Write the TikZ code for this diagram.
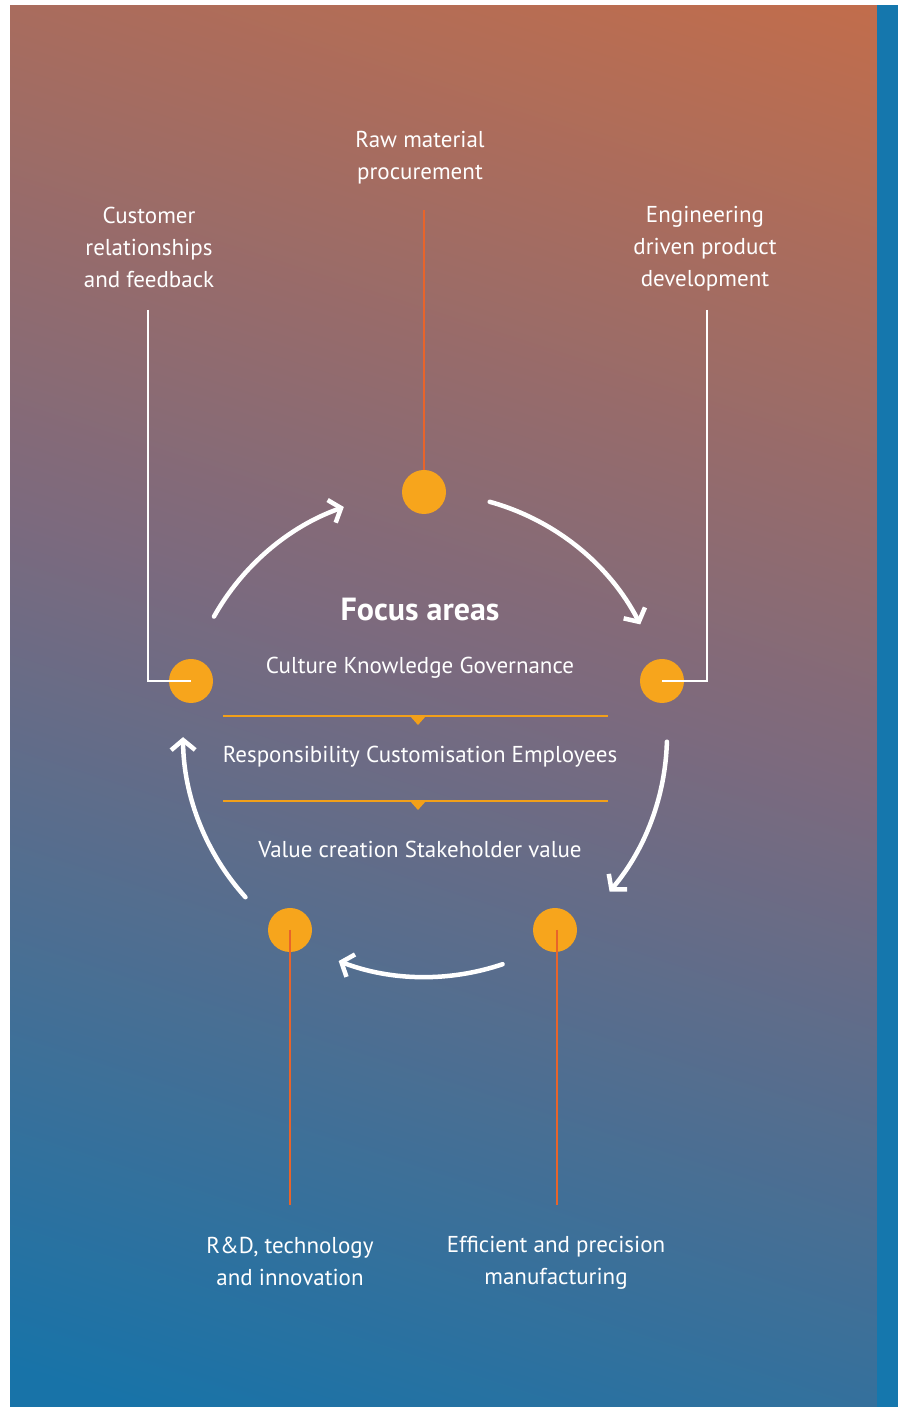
\documentclass[tikz,border=0pt]{standalone}
\usepackage{fontspec}
\setmainfont{PT Sans}
\usetikzlibrary{arrows.meta}
\definecolor{dotorange}{HTML}{F7A51C}
\definecolor{lineorange}{HTML}{E8642A}
\definecolor{sepline}{HTML}{F2A019}
\definecolor{backtop}{HTML}{CC6E44}
\definecolor{backmid}{HTML}{7C6A7E}
\definecolor{backbot}{HTML}{1873A8}
\definecolor{edgeblue}{HTML}{1577AD}
\pgfdeclareverticalshading{backdrop}{100bp}{color(0bp)=(backbot); color(20bp)=(backbot); color(52bp)=(backmid); color(86bp)=(backtop); color(100bp)=(backtop)}
\tikzset{
  stagedot/.style={circle,fill=dotorange,minimum size=44pt,inner sep=0pt},
  stagetext/.style={text=white,align=center,inner sep=2pt,font=\fontsize{23}{32}\selectfont},
  focustext/.style={text=white,font=\fontsize{23}{26}\selectfont},
  feedline/.style={white,line width=2.2pt},
  supplyline/.style={lineorange,line width=2pt},
  cyclearrow/.style={white,line width=4.5pt,line cap=round,-{Straight Barb[length=10pt,width=24pt]}},
}
\begin{document}
\begin{tikzpicture}[x=1pt,y=1pt]
  \useasboundingbox (0,0) rectangle (901,1407);
  \fill[white] (0,0) rectangle (901,1407);
  % Backdrop and the blue edge strip.
  \shade[shading=backdrop,shading angle=-18] (10,0) rectangle (877,1401);
  \fill[edgeblue] (877,0) rectangle (898,1402);

  % The five stages.
  \coordinate (hub) at (425,672);
  \node[stagetext] (raw)  at (420,1249) {Raw material\\procurement};
  \node[stagetext] (cust) at (149,1160) {Customer\\relationships\\and feedback};
  \node[stagetext] (eng)  at (705,1158) {Engineering\\driven product\\development};
  \node[stagetext] (rnd)  at (290,146)  {R\&D, technology\\and innovation};
  \node[stagetext] (mfg)  at (556,144)  {Efficient and precision\\manufacturing};

  \coordinate (rawend) at (424,1197);
  \coordinate (custend) at (148,1097);
  \coordinate (engend) at (707,1097);
  \coordinate (rndend) at (290,202);
  \coordinate (mfgend) at (557,202);

  \draw[supplyline] (rawend) -- (424,915);
  \node[stagedot] (dN)  at (424,915) {};
  \node[stagedot] (dW)  at (191,726) {};
  \node[stagedot] (dE)  at (662,726) {};
  \node[stagedot] (dSW) at (290,477) {};
  \node[stagedot] (dSE) at (555,477) {};
  \draw[supplyline] (dSW.center) -- (rndend);
  \draw[supplyline] (dSE.center) ++(2,0) -- (mfgend);
  \draw[feedline] (custend) |- (dW.center);
  \draw[feedline] (engend) |- (dE.center);

  % Cycle arrows round the centre.
  \draw[cyclearrow] (hub) ++(150.7:242) arc[start angle=150.7,end angle=109.6,radius=242];
  \draw[cyclearrow] (hub) ++(74.5:242) arc[start angle=74.5,end angle=27.2,radius=242];
  \draw[cyclearrow] (hub) ++(-1.6:242) arc[start angle=-1.6,end angle=-40.3,radius=242];
  \draw[cyclearrow] (hub) ++(-71.3:242) arc[start angle=-71.3,end angle=-110.9,radius=242];
  \draw[cyclearrow] (hub) ++(-137.9:242) arc[start angle=-137.9,end angle=-179.5,radius=242];

  % Focus areas in the middle.
  \node[text=white,font=\fontsize{32}{36}\selectfont\bfseries] (focus) at (420,797) {Focus areas};
  \node[focustext] (row1) at (420,739) {Culture Knowledge Governance};
  \node[focustext] (row2) at (420,650) {Responsibility Customisation Employees};
  \node[focustext] (row3) at (420,558) {Value creation Stakeholder value};
  \foreach \y in {691,606} {
    \draw[sepline,line width=2pt] (223,\y) -- (608,\y);
    \fill[sepline] (410,\y) -- (426,\y) -- (418,\y-9) -- cycle;
  }
\end{tikzpicture}
\end{document}
